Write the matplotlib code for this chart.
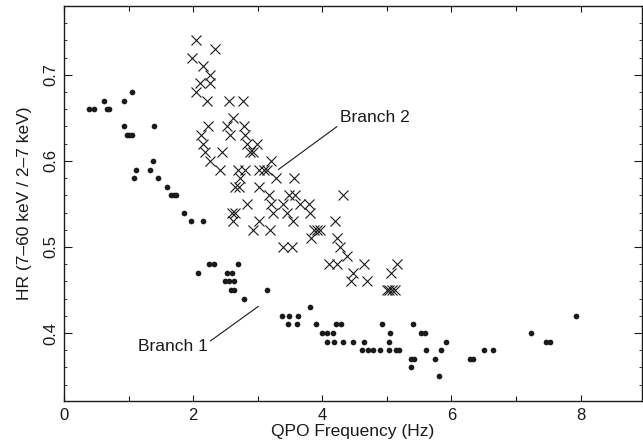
import matplotlib
matplotlib.use('Agg')
import matplotlib.pyplot as plt
from matplotlib.ticker import MultipleLocator

plt.rcParams['font.family'] = ['Liberation Sans', 'DejaVu Sans']

# Branch 1 (dots): QPO frequency (Hz), hardness ratio
b1_freq = [0.39, 0.46, 0.62, 0.66, 0.70, 0.93, 1.05, 0.93, 0.97, 1.00, 1.05, 1.40,
           1.12, 1.09, 1.33, 1.38, 1.45, 1.59, 1.66, 1.70, 1.73, 1.86, 1.96, 2.16,
           2.08, 2.24, 2.32, 2.69, 2.52, 2.60, 2.49, 2.56, 2.63, 2.59, 2.63, 2.78,
           3.14, 3.81, 3.38, 3.49, 3.62, 3.47, 3.61, 3.90, 4.21, 4.29, 4.00, 4.08,
           4.16, 4.08, 4.18, 4.32, 4.47, 4.65, 5.04, 5.92, 7.47, 7.52,
           4.62, 4.70, 4.78, 4.89, 5.03, 5.14, 5.18, 5.60, 5.83, 6.50, 6.65,
           5.05, 5.53, 5.59, 7.23, 4.93, 5.41, 7.93,
           5.37, 5.42, 5.75, 6.28, 6.34, 5.37, 5.80]
b1_hr = [0.66, 0.66, 0.67, 0.66, 0.66, 0.67, 0.68, 0.64, 0.63, 0.63, 0.63, 0.64,
         0.59, 0.58, 0.59, 0.60, 0.58, 0.57, 0.56, 0.56, 0.56, 0.54, 0.53, 0.53,
         0.47, 0.48, 0.48, 0.48, 0.47, 0.47, 0.46, 0.46, 0.46, 0.45, 0.45, 0.44,
         0.45, 0.43, 0.42, 0.42, 0.42, 0.41, 0.41, 0.41, 0.41, 0.41, 0.40, 0.40,
         0.40, 0.39, 0.39, 0.39, 0.39, 0.39, 0.39, 0.39, 0.39, 0.39,
         0.38, 0.38, 0.38, 0.38, 0.38, 0.38, 0.38, 0.38, 0.38, 0.38, 0.38,
         0.40, 0.40, 0.40, 0.40, 0.41, 0.41, 0.42,
         0.37, 0.37, 0.37, 0.37, 0.37, 0.36, 0.35]

# Branch 2 (crosses)
b2_freq = [2.05, 2.34, 1.98, 2.16, 2.26, 2.11, 2.26, 2.04,
           2.22, 2.56, 2.77, 2.61, 2.23, 2.53, 2.79, 2.12, 2.57, 2.81,
           2.16, 2.84, 2.99, 2.18, 2.45, 2.88, 2.93, 2.26, 3.21,
           2.42, 2.70, 2.81, 3.02, 3.09, 3.14, 2.72, 3.29, 3.56,
           2.65, 2.71, 3.02, 3.18, 3.48, 3.57, 4.32,
           2.84, 3.20, 3.39, 3.66, 3.80, 2.60, 2.65, 3.24, 3.46, 3.81,
           2.61, 3.02, 3.54, 4.19, 2.92, 3.19, 3.87, 3.92, 3.96,
           3.82, 4.22, 3.39, 3.53, 4.27, 4.38,
           4.10, 4.23, 4.64, 5.15, 4.47, 5.06, 4.44, 4.69,
           5.00, 5.04, 5.08, 5.12]
b2_hr = [0.74, 0.73, 0.72, 0.71, 0.70, 0.69, 0.69, 0.68,
         0.67, 0.67, 0.67, 0.65, 0.64, 0.64, 0.64, 0.63, 0.63, 0.63,
         0.62, 0.62, 0.62, 0.61, 0.61, 0.61, 0.61, 0.60, 0.60,
         0.59, 0.59, 0.59, 0.59, 0.59, 0.59, 0.58, 0.58, 0.58,
         0.57, 0.57, 0.57, 0.56, 0.56, 0.56, 0.56,
         0.55, 0.55, 0.55, 0.55, 0.55, 0.54, 0.54, 0.54, 0.54, 0.54,
         0.53, 0.53, 0.53, 0.53, 0.52, 0.52, 0.52, 0.52, 0.52,
         0.51, 0.51, 0.50, 0.50, 0.50, 0.49,
         0.48, 0.48, 0.48, 0.48, 0.47, 0.47, 0.46, 0.46,
         0.45, 0.45, 0.45, 0.45]

ink = '#1a1a1a'

fig = plt.figure(figsize=(6.43, 4.47), dpi=100)
ax = fig.add_axes([64 / 643, 1 - 401 / 447, 578 / 643, 395 / 447])

ax.plot(b1_freq, b1_hr, 'o', color=ink, markersize=4.1, markeredgewidth=0)
ax.plot(b2_freq, b2_hr, 'x', color=ink, markersize=7, markeredgewidth=0.8)

ax.set_xlim(0, 8.95)
ax.set_ylim(0.321, 0.780)

ax.xaxis.set_major_locator(MultipleLocator(2))
ax.xaxis.set_minor_locator(MultipleLocator(1))
ax.yaxis.set_major_locator(MultipleLocator(0.1))
ax.yaxis.set_minor_locator(MultipleLocator(0.02))

ax.tick_params(which='both', direction='in', top=True, right=True, colors=ink,
               labelsize=12)
ax.tick_params(axis='x', which='major', length=4.5, width=0.8, pad=5)
ax.tick_params(axis='x', which='minor', length=3.5, width=0.8)
ax.tick_params(axis='y', which='major', length=5.5, width=0.8, pad=4)
ax.tick_params(axis='y', which='minor', length=2.5, width=0.6)
for lab in ax.get_yticklabels():
    lab.set_rotation(90)
    lab.set_va('center')

for sp in ax.spines.values():
    sp.set_color(ink)
    sp.set_linewidth(1.0)

ax.set_xlabel('QPO Frequency (Hz)', fontsize=12.5, color=ink, labelpad=1)
ax.set_ylabel('HR (7\u201360 keV / 2\u20137 keV)', fontsize=12.5, color=ink, labelpad=8)

# annotations
ax.annotate('Branch 2', xy=(3.32, 0.590), xytext=(4.27, 0.651),
            fontsize=12.5, color=ink, va='center', ha='left',
            arrowprops=dict(arrowstyle='-', color=ink, lw=0.8,
                            shrinkA=0, shrinkB=0, relpos=(0, 0)))
ax.annotate('Branch 1', xy=(3.01, 0.431), xytext=(1.14, 0.384),
            fontsize=12.5, color=ink, va='center', ha='left',
            arrowprops=dict(arrowstyle='-', color=ink, lw=0.8,
                            shrinkA=0, shrinkB=0, relpos=(1, 0.75)))

fig.savefig('out.png', dpi=100)
